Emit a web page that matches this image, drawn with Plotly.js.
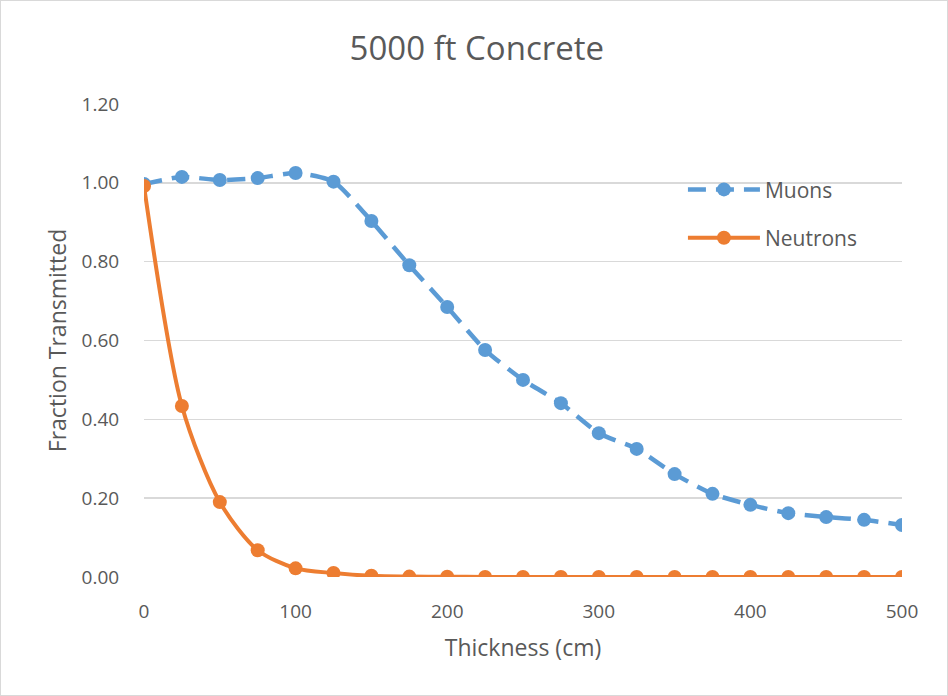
<!DOCTYPE html>
<html>
<head>
<meta charset="utf-8">
<script src="https://cdn.plot.ly/plotly-3.0.1.min.js"></script>
<style>
  html, body { margin: 0; padding: 0; background: #fff; }
  #wrap { position: relative; width: 948px; height: 696px; }
  #frame { position: absolute; left: 0; top: 0; width: 948px; height: 696px; box-sizing: border-box;
           border: 1px solid #d9d9d9; pointer-events: none; }
</style>
</head>
<body>
<div id="wrap">
  <div id="chart"></div>
  <div id="frame"></div>
</div>
<script>
// Shield thickness in cm
const thickness = [0, 25, 50, 75, 100, 125, 150, 175, 200, 225, 250, 275, 300, 325, 350, 375, 400, 425, 450, 475, 500];
// Fraction of particles transmitted through concrete at 5000 ft
const muons = [0.997, 1.015, 1.007, 1.012, 1.025, 1.003, 0.903, 0.791, 0.685, 0.576, 0.500, 0.441, 0.365, 0.325, 0.261, 0.211, 0.183, 0.162, 0.152, 0.145, 0.132];
const neutrons = [0.992, 0.434, 0.190, 0.068, 0.022, 0.010, 0.003, 0.001, 0.0005, 0.0003, 0.0002, 0.0001, 0.0001, 0, 0, 0, 0, 0, 0, 0, 0];
const yTicks = [0, 0.2, 0.4, 0.6, 0.8, 1.0, 1.2];
const xTicks = [0, 100, 200, 300, 400, 500];

const font = "'Open Sans', 'Liberation Sans', sans-serif";
const grey = '#595959';

const traces = [
  {
    x: thickness, y: muons, name: 'Muons', legendgroup: 'm', type: 'scatter', mode: 'lines+markers',
    line: { color: '#5B9BD5', width: 4.5, dash: '18px,10px', shape: 'spline', smoothing: 0.6 },
    marker: { color: '#5B9BD5', size: 14 }
  },
  {
    x: thickness, y: neutrons, name: 'Neutrons', legendgroup: 'n', type: 'scatter', mode: 'lines+markers',
    line: { color: '#ED7D31', width: 4, shape: 'spline', smoothing: 0.8 },
    marker: { color: '#ED7D31', size: 14 }
  }
];

const layout = {
  width: 948, height: 696,
  margin: { l: 144, r: 46, t: 104, b: 119 },
  paper_bgcolor: '#ffffff', plot_bgcolor: '#ffffff',
  font: { family: font, color: grey, size: 18 },
  title: { text: '5000 ft Concrete', x: 0.503, xanchor: 'center', y: 0.931, yanchor: 'middle',
           font: { family: font, size: 33, color: grey } },
  xaxis: {
    range: [0, 500], tickvals: xTicks, ticktext: xTicks.map(String),
    showgrid: false, zeroline: false, showline: false,
    ticks: 'outside', ticklen: 17, tickcolor: 'rgba(0,0,0,0)',
    tickfont: { size: 19, color: grey },
    title: { text: 'Thickness (cm)', font: { size: 23, color: grey }, standoff: 17 }
  },
  yaxis: {
    range: [0, 1.2], tickvals: yTicks, ticktext: yTicks.map(v => v.toFixed(2)),
    showgrid: true, gridcolor: '#d9d9d9', gridwidth: 1.5, zeroline: false, showline: false,
    ticks: 'outside', ticklen: 20, tickcolor: 'rgba(0,0,0,0)',
    tickfont: { size: 19, color: grey },
    title: { text: 'Fraction Transmitted', font: { size: 23, color: grey }, standoff: 8 }
  },
  legend: {
    x: 0.711, y: 0.862, xanchor: 'left', yanchor: 'top',
    font: { size: 21, color: grey }, bgcolor: 'rgba(0,0,0,0)',
    traceorder: 'grouped', tracegroupgap: 18, itemwidth: 72
  },
  showlegend: true
};

Plotly.newPlot('chart', traces, layout, { displayModeBar: false, staticPlot: true });
</script>
</body>
</html>
